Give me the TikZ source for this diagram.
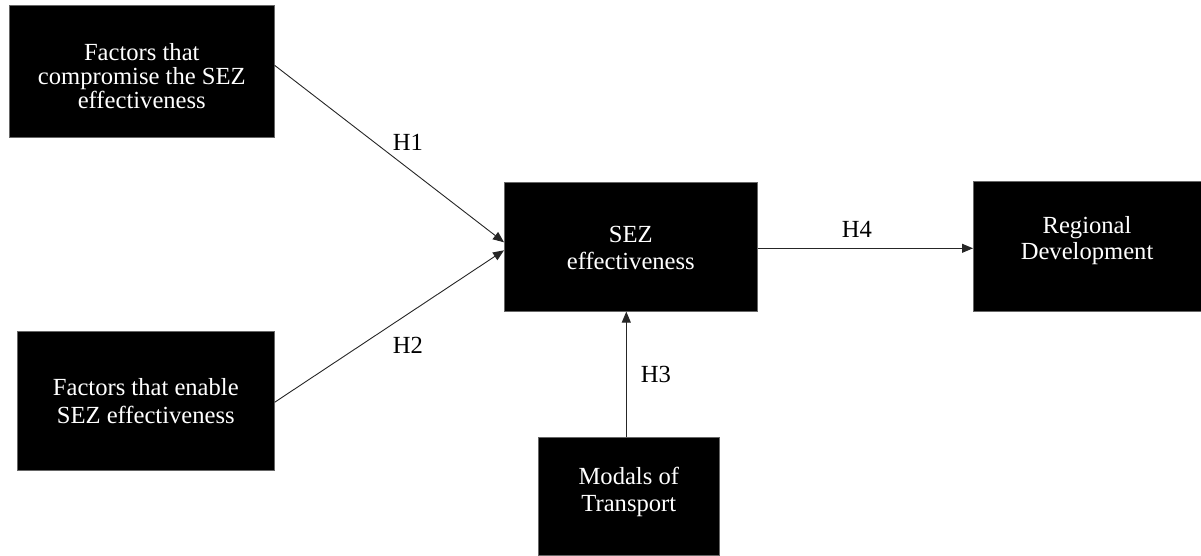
\documentclass[tikz,border=0pt]{standalone}
\usepackage{fontspec}
\setmainfont{Liberation Serif}
\usetikzlibrary{arrows.meta}
\begin{document}
\begin{tikzpicture}[x=1pt,y=-1pt,
  box/.style={draw=black!60,line width=0.6pt,fill=black,anchor=north west,inner sep=0pt},
  txt/.style={text=white,inner sep=0pt,align=center},
  conn/.style={draw=black!85,line width=0.9pt,-{Triangle[length=11pt,width=9pt]}},
  lab/.style={font=\fontsize{24.6}{24.5}\selectfont,inner sep=0pt}]
\useasboundingbox (0,0) rectangle (1201,555);
\node[box,minimum width=265pt,minimum height=132pt] (b1) at (9,5) {};
\node[box,minimum width=257pt,minimum height=139pt] (b2) at (17,331) {};
\node[box,minimum width=253pt,minimum height=129pt] (sez) at (504,182) {};
\node[box,minimum width=227.5pt,minimum height=130pt] (reg) at (973,181) {};
\node[box,minimum width=181pt,minimum height=118pt] (mod) at (538,437) {};
\node[txt,font=\fontsize{24.6}{24}\selectfont] (t1) at ([yshift=-4.6pt]b1.center) {Factors that\\compromise the SEZ\\effectiveness};
\node[txt,font=\fontsize{24.6}{28}\selectfont] (t2) at (b2.center) {Factors that enable\\SEZ effectiveness};
\node[txt,font=\fontsize{24.6}{27}\selectfont] (t3) at ([yshift=-1pt]sez.center) {SEZ\\effectiveness};
\node[txt,font=\fontsize{24.6}{26}\selectfont] (t4) at ([yshift=5.7pt]reg.center) {Regional\\Development};
\node[txt,font=\fontsize{24.6}{27}\selectfont] (t5) at ([yshift=4pt]mod.center) {Modals of\\Transport};
\draw[conn] ([yshift=6pt]b1.east) -- ([yshift=4.5pt]sez.west);
\draw[conn] ([yshift=-1.5pt]b2.east) -- ([yshift=-3.5pt]sez.west);
\draw[conn] ([yshift=-1.5pt]sez.east) -- ([yshift=-1.5pt]sez.east -| reg.west);
\draw[conn] ([xshift=-2.5pt]mod.north) -- ([xshift=-2.5pt]mod.north |- sez.south);
\node[lab] (h1) at (408,142) {H1};
\node[lab] (h2) at (408,345) {H2};
\node[lab] (h3) at (656,374) {H3};
\node[lab] (h4) at (857,229) {H4};
\end{tikzpicture}
\end{document}
